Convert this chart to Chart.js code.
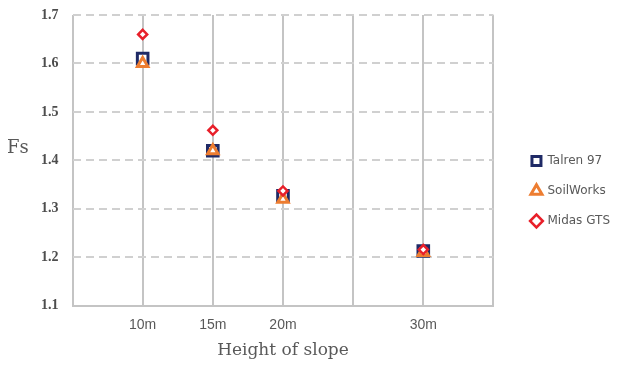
<!DOCTYPE html>
<html>
<head>
<meta charset="utf-8">
<script src="https://cdn.jsdelivr.net/npm/chart.js@4"></script>
<style>
  html, body { margin: 0; padding: 0; background: #fff; }
  #wrap { width: 628px; height: 366px; }
</style>
</head>
<body>
<div id="wrap"><canvas id="fsChart"></canvas></div>
<script>
// slope height (m) and factor of safety per program
const heights = [10, 15, 20, 30];
const heightLabels = ["10m", "15m", "20m", "30m"];
const talren = [1.61, 1.42, 1.327, 1.213];
const soilworks = [1.60, 1.42, 1.32, 1.21];
const midas = [1.66, 1.462, 1.337, 1.216];

const toPoints = ys => heights.map((h, i) => ({ x: h, y: ys[i] }));

// "Fs" sits horizontal next to the axis, so draw it by hand
const yTitle = {
    id: "yTitle",
    afterDraw(chart) {
        const ctx = chart.ctx;
        ctx.save();
        ctx.font = "18px 'DejaVu Serif'";
        ctx.fillStyle = "#595959";
        ctx.textBaseline = "middle";
        ctx.fillText("Fs", 7, 148);
        ctx.restore();
    }
};

// push the legend a bit away from the plot
const legendShift = {
    id: "legendShift",
    afterLayout(chart) {
        const lg = chart.legend;
        lg.left += 20;
        lg.right += 20;
        lg.top += 3;
        lg.bottom += 3;
    }
};

new Chart(document.getElementById("fsChart"), {
    type: "scatter",
    data: {
        datasets: [{
            label: "Talren 97",
            data: toPoints(talren),
            pointStyle: "rect",
            pointRadius: 7.5,
            borderWidth: 3,
            borderColor: "#1f2a66",
            backgroundColor: "#ffffff",
            order: 3
        }, {
            label: "SoilWorks",
            data: toPoints(soilworks),
            pointStyle: "triangle",
            pointRadius: 6,
            borderWidth: 3,
            borderColor: "#ed7d31",
            backgroundColor: "#ffffff",
            order: 2
        }, {
            label: "Midas GTS",
            data: toPoints(midas),
            pointStyle: "rectRot",
            pointRadius: 4.5,
            borderWidth: 2.5,
            borderColor: "#e8202a",
            backgroundColor: "#ffffff",
            order: 1
        }]
    },
    options: {
        responsive: true,
        maintainAspectRatio: false,
        animation: false,
        layout: { padding: { left: 27, top: 15, right: 28, bottom: 5 } },
        plugins: {
            tooltip: { enabled: false },
            legend: {
                position: "right",
                labels: {
                    usePointStyle: true,
                    boxWidth: 10,
                    boxHeight: 9,
                    padding: 18,
                    color: "#595959",
                    font: { family: "'DejaVu Sans'", size: 12 },
                    sort: (a, b) => a.datasetIndex - b.datasetIndex
                }
            }
        },
        scales: {
            x: {
                type: "linear",
                min: 5,
                max: 35,
                ticks: {
                    stepSize: 5,
                    padding: 11,
                    color: "#595959",
                    font: { family: "'Liberation Sans'", size: 14 },
                    callback: v => {
                        const i = heights.indexOf(v);
                        return i >= 0 ? heightLabels[i] : "";
                    }
                },
                grid: { color: "#c4c4c4", lineWidth: 2, drawTicks: false },
                border: { display: true, color: "#c4c4c4", width: 2 },
                title: {
                    display: true,
                    text: "Height of slope",
                    color: "#595959",
                    font: { family: "'DejaVu Serif'", size: 17 },
                    padding: { top: -4, bottom: 0 }
                }
            },
            y: {
                min: 1.1,
                max: 1.7,
                afterFit: s => { s.paddingTop = 0; },
                ticks: {
                    stepSize: 0.1,
                    padding: 14,
                    color: "#4d4d4d",
                    font: { family: "'Liberation Serif'", size: 14, weight: "bold" },
                    callback: v => v.toFixed(1)
                },
                grid: { color: "#d0d0d0", lineWidth: 2, drawTicks: false },
                border: { display: false, dash: [8, 5] }
            }
        }
    },
    plugins: [yTitle, legendShift]
});
</script>
</body>
</html>
